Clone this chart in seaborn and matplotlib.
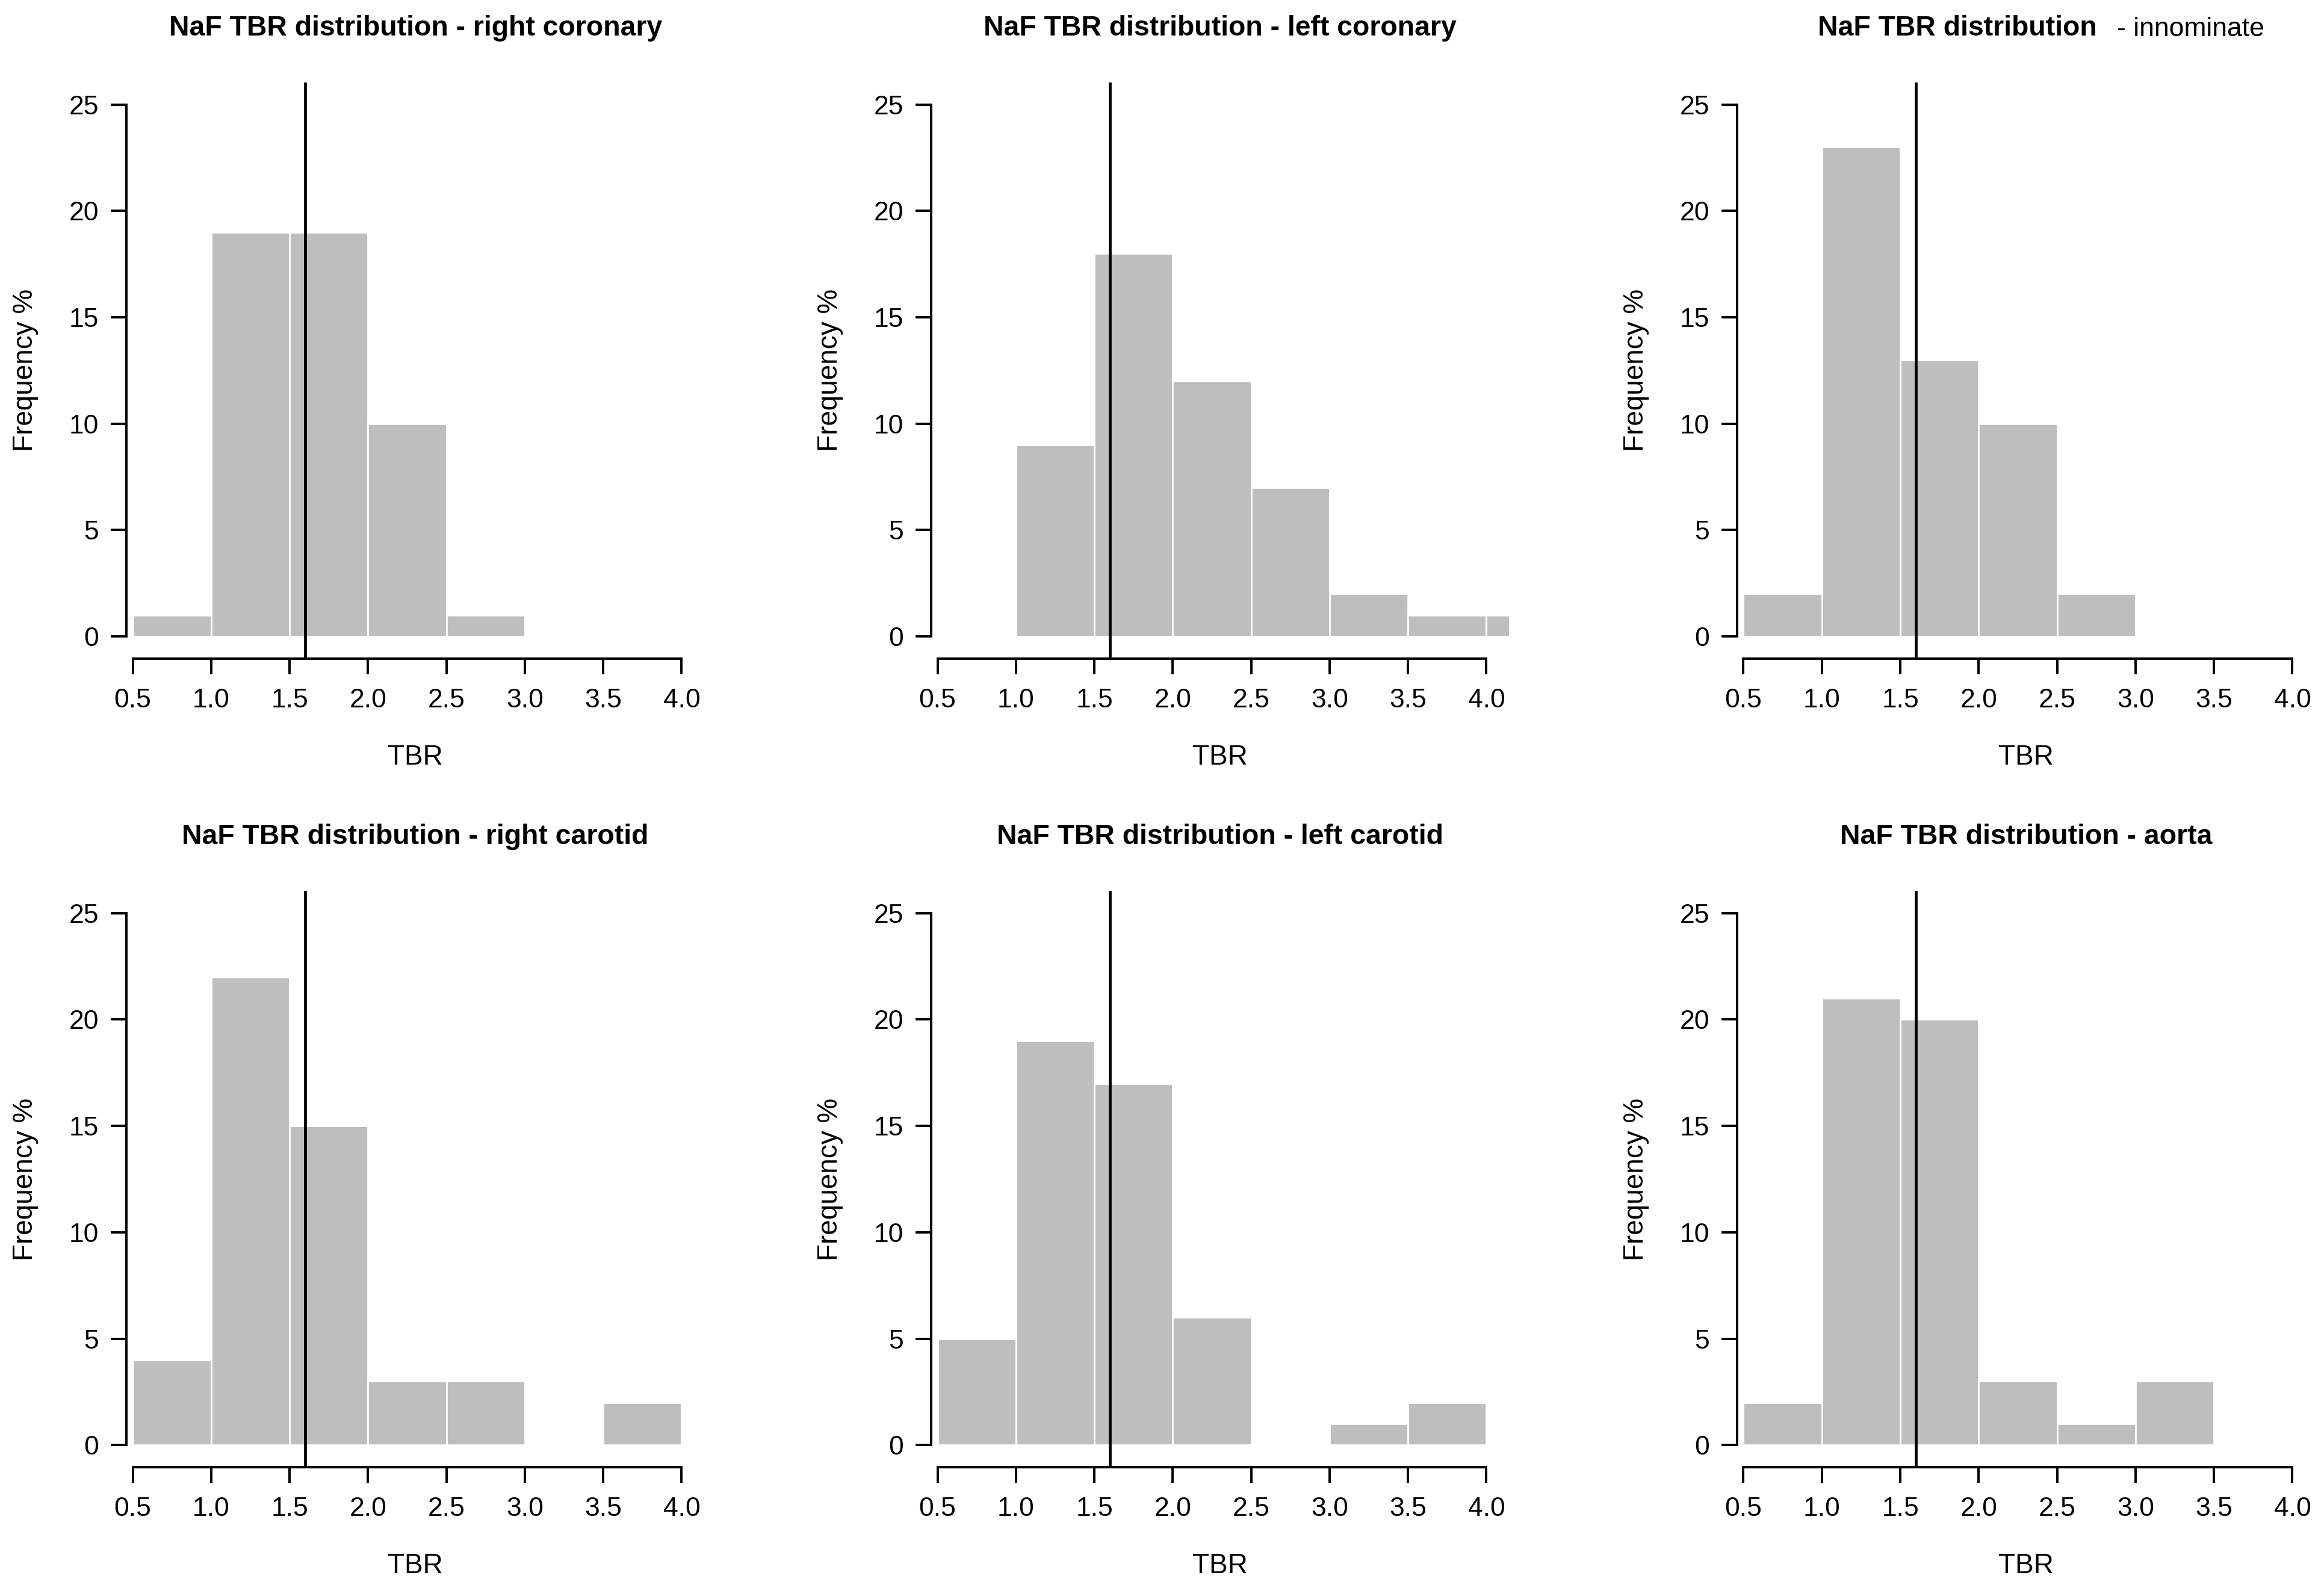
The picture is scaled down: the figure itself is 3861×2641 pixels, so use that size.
import numpy as np
import pandas as pd
import matplotlib
matplotlib.use("Agg")
import matplotlib.pyplot as plt
import seaborn as sns

# Histogram data (frequency % per TBR bin)
regions = ["right coronary", "left coronary", "innominate",
           "right carotid", "left carotid", "aorta"]

right_coronary_edges = [0.5, 1.0, 1.5, 2.0, 2.5, 3.0]
right_coronary_freq = [1, 19, 19, 10, 1]

left_coronary_edges = [1.0, 1.5, 2.0, 2.5, 3.0, 3.5, 4.0, 4.5]
left_coronary_freq = [9, 18, 12, 7, 2, 1, 1]

innominate_edges = [0.5, 1.0, 1.5, 2.0, 2.5, 3.0]
innominate_freq = [2, 23, 13, 10, 2]

right_carotid_edges = [0.5, 1.0, 1.5, 2.0, 2.5, 3.0, 3.5, 4.0]
right_carotid_freq = [4, 22, 15, 3, 3, 0, 2]

left_carotid_edges = [0.5, 1.0, 1.5, 2.0, 2.5, 3.0, 3.5, 4.0]
left_carotid_freq = [5, 19, 17, 6, 0, 1, 2]

aorta_edges = [0.5, 1.0, 1.5, 2.0, 2.5, 3.0, 3.5]
aorta_freq = [2, 21, 20, 3, 1, 3]

cutoff = 1.6
x_ticks = [0.5, 1.0, 1.5, 2.0, 2.5, 3.0, 3.5, 4.0]
y_ticks = [0, 5, 10, 15, 20, 25]

all_edges = [right_coronary_edges, left_coronary_edges, innominate_edges,
             right_carotid_edges, left_carotid_edges, aorta_edges]
all_freq = [right_coronary_freq, left_coronary_freq, innominate_freq,
            right_carotid_freq, left_carotid_freq, aorta_freq]

sns.set_theme(style="ticks")
plt.rcParams['font.family'] = ['Liberation Sans', 'DejaVu Sans']
plt.rcParams['text.color'] = 'black'
plt.rcParams['axes.labelcolor'] = 'black'

fig = plt.figure(figsize=(19.31, 13.205), dpi=200)
lefts = [0.0544, 0.4006, 0.7473]
bottoms = [0.5858, 0.0772]
w, h = 0.2486, 0.3624

for i, (name, edges, freq) in enumerate(zip(regions, all_edges, all_freq)):
    ax = fig.add_axes([lefts[i % 3], bottoms[i // 3], w, h])
    e = np.array(edges)
    df = pd.DataFrame({'TBR': (e[:-1] + e[1:]) / 2, 'freq': freq})
    sns.histplot(data=df, x='TBR', weights='freq', bins=list(edges), color="#bebebe",
                 alpha=1, edgecolor="white", linewidth=1.0, ax=ax)
    ax.axvline(cutoff, color="black", lw=1.7)

    ax.set_xlim(0.46, 4.145)
    ax.set_ylim(-1.04, 26.04)
    ax.set_xticks(x_ticks)
    ax.set_xticklabels([f"{t:.1f}" for t in x_ticks])
    ax.set_yticks(y_ticks)
    for s in ['top', 'right']:
        ax.spines[s].set_visible(False)
    ax.spines['left'].set_bounds(0, 25)
    ax.spines['bottom'].set_bounds(0.5, 4.0)
    for s in ['left', 'bottom']:
        ax.spines[s].set_linewidth(1.4)
        ax.spines[s].set_color("black")
    ax.tick_params(axis='both', direction='out', length=9.5, width=1.4,
                   labelsize=16, colors="black")
    ax.tick_params(axis='x', pad=8)
    ax.tick_params(axis='y', pad=7)

    ax.set_xlabel("TBR", fontsize=16.5)
    ax.set_ylabel("Frequency %", fontsize=16.5)
    ax.xaxis.set_label_coords(0.5, -0.148)
    ax.yaxis.set_label_coords(-0.152, 0.5)

    if name == "innominate":
        fig.text(3020 / 3862, 1 - 59 / 2641, "NaF TBR distribution",
                 fontsize=16.7, fontweight='bold', ha='left', va='baseline')
        fig.text(3517 / 3862, 1 - 60 / 2641, "- innominate",
                 fontsize=16, ha='left', va='baseline')
    else:
        ax.set_title(f"NaF TBR distribution - {name}", fontsize=16.7,
                     fontweight='bold', pad=28)

fig.savefig("out.png", dpi=200)
